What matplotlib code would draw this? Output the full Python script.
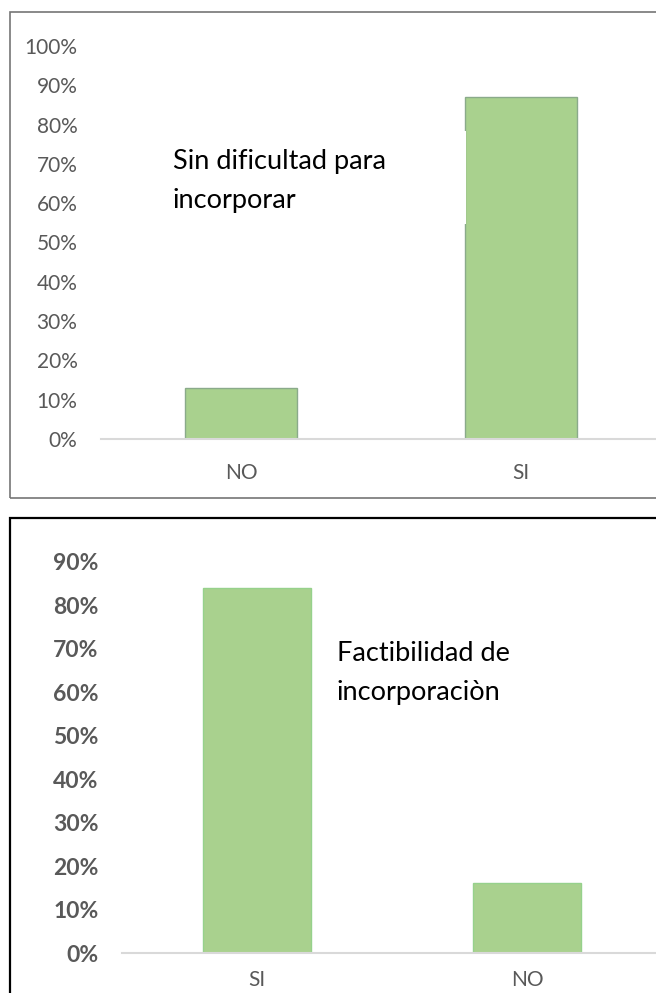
import matplotlib
matplotlib.use("Agg")
import matplotlib.pyplot as plt
from matplotlib.patches import Rectangle
from matplotlib.ticker import PercentFormatter

plt.rcParams['font.family'] = ['Lato', 'DejaVu Sans']

# survey answers, share of respondents
dificultad_cats = ["NO", "SI"]
dificultad_vals = [0.13, 0.87]
dificultad_ticks = [i / 10 for i in range(11)]

factibilidad_cats = ["SI", "NO"]
factibilidad_vals = [0.84, 0.16]
factibilidad_ticks = [i / 10 for i in range(10)]

W, H = 656, 993
GREEN = "#a9d18e"
TICK_GREY = "#595959"
AXIS_GREY = "#d9d9d9"


def px(x, y):
    """pixel position (from top-left) -> figure fraction"""
    return x / W, 1 - y / H


def box(left, top, right, bottom):
    """figure-fraction rect [l, b, w, h] from pixel edges"""
    return [left / W, 1 - bottom / H, (right - left) / W, (bottom - top) / H]


def style_axis(ax, ticks, bold):
    ax.set_xlim(-0.5, 1.5)
    ax.set_ylim(0, ticks[-1])
    ax.set_yticks(ticks)
    ax.yaxis.set_major_formatter(PercentFormatter(1.0, decimals=0))
    for s in ("top", "right", "left"):
        ax.spines[s].set_visible(False)
    ax.spines["bottom"].set_color(AXIS_GREY)
    ax.spines["bottom"].set_linewidth(1.5)
    ax.tick_params(axis="both", length=0, colors=TICK_GREY, labelsize=15, pad=17)
    if bold:
        for lbl in ax.get_yticklabels():
            lbl.set_fontweight("bold")
            lbl.set_fontsize(16.5)


fig = plt.figure(figsize=(W / 100, H / 100), dpi=100)

# outer frames of the two charts
fig.patches.append(Rectangle(px(10, 498), 700 / W, 486 / H, transform=fig.transFigure,
                             fill=False, edgecolor="#767676", linewidth=1.2, zorder=0))
fig.patches.append(Rectangle(px(10, 1020), 700 / W, 502 / H, transform=fig.transFigure,
                             fill=False, edgecolor="#000000", linewidth=1.6, zorder=0))

# top chart
ax1 = fig.add_axes(box(101, 46, 661, 439))
ax1.bar(range(len(dificultad_cats)), dificultad_vals, width=0.4, color=GREEN,
        edgecolor="#8aaa8a", linewidth=1.0)
ax1.set_xticks(range(len(dificultad_cats)))
ax1.set_xticklabels(dificultad_cats)
style_axis(ax1, dificultad_ticks, bold=False)

# text box fill clipping the bar edge
fig.patches.append(Rectangle(px(165, 224), 301 / W, 93 / H, transform=fig.transFigure,
                             facecolor="white", edgecolor="none", zorder=1))
x, y = px(173, 208)
fig.text(x, y, "Sin dificultad para\nincorporar", fontsize=19.5, color="black",
         ha="left", va="baseline", linespacing=1.7, zorder=2)

# bottom chart
ax2 = fig.add_axes(box(122, 562, 662, 953))
ax2.bar(range(len(factibilidad_cats)), factibilidad_vals, width=0.4, color=GREEN,
        edgecolor="#96d18c", linewidth=1.0)
ax2.set_xticks(range(len(factibilidad_cats)))
ax2.set_xticklabels(factibilidad_cats)
style_axis(ax2, factibilidad_ticks, bold=True)
ax2.tick_params(axis="x", pad=12)

x, y = px(337, 700)
fig.text(x, y, "Factibilidad de\nincorporaciòn", fontsize=19.5, color="black",
         ha="left", va="baseline", linespacing=1.7, zorder=2)

fig.savefig("out.png", dpi=100)
